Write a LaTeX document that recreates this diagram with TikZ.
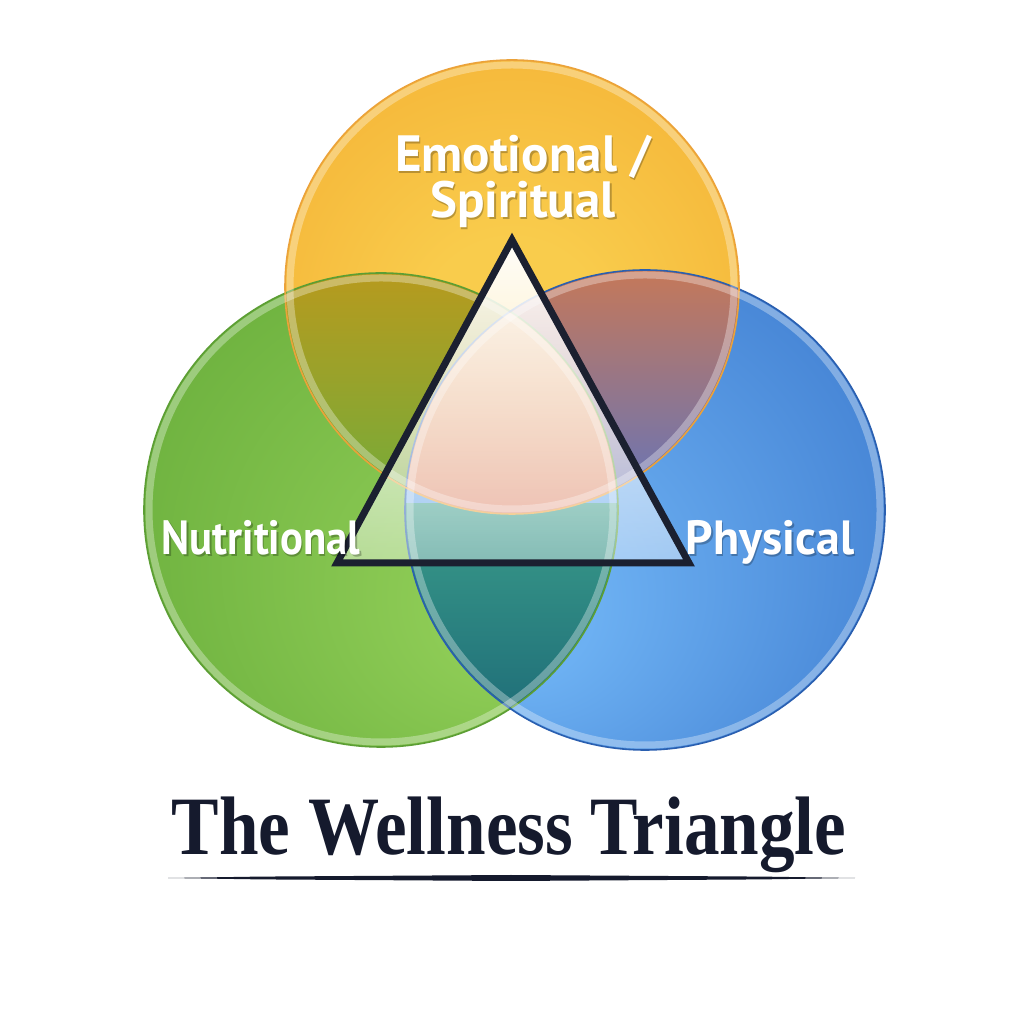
\documentclass[tikz,border=0pt]{standalone}
\usepackage{fontspec}
\setmainfont{Liberation Serif}
\newfontfamily\labelfont{PT Sans}
\usetikzlibrary{fadings}
\definecolor{oc1}{HTML}{F9CC4C}
\definecolor{oc2}{HTML}{F1A227}
\definecolor{gc1}{HTML}{8DCB55}
\definecolor{gc2}{HTML}{5AA231}
\definecolor{bc1}{HTML}{6CB0F2}
\definecolor{bc2}{HTML}{2D68C2}
\definecolor{navy}{HTML}{151A2D}
\definecolor{triline}{HTML}{1B2030}
\definecolor{ogTop}{HTML}{B79A1E}
\definecolor{ogBot}{HTML}{6FAD3C}
\definecolor{obTop}{HTML}{C4785A}
\definecolor{obBot}{HTML}{5E74C0}
\definecolor{gbTop}{HTML}{3A9C8A}
\definecolor{gbBot}{HTML}{1C6876}
\definecolor{trTop}{HTML}{E6A655}
\definecolor{trBot}{HTML}{DE8870}
\definecolor{gEdge}{HTML}{5C9E34}
\definecolor{bEdge}{HTML}{2A5FB0}
\definecolor{oEdge}{HTML}{EBA23A}
\pgfdeclareradialshading{orsh}{\pgfpoint{0bp}{-6bp}}{color(0bp)=(oc1); color(10bp)=(oc1); color(50bp)=(oc2)}
\pgfdeclareradialshading{grsh}{\pgfpoint{16bp}{-12bp}}{color(0bp)=(gc1); color(8bp)=(gc1); color(50bp)=(gc2)}
\pgfdeclareradialshading{blsh}{\pgfpoint{-16bp}{-12bp}}{color(0bp)=(bc1); color(8bp)=(bc1); color(50bp)=(bc2)}
\tikzfading[name=trifade, top color=transparent!3, bottom color=transparent!60]
\begin{document}
\begin{tikzpicture}[x=1pt,y=1pt,
  lbl/.style={text=white, inner sep=0pt, anchor=base},
  lblsh/.style={lbl, text=black, opacity=0.25},
  topfont/.style={font=\labelfont\bfseries\fontsize{51}{46}\selectfont, align=center},
  sidefont/.style={font=\labelfont\bfseries\fontsize{48}{52}\selectfont},
  rim/.style={draw=white, line width=7pt, draw opacity=0.32},
  edge/.style={line width=1.6pt}]
\fill[white] (0,0) rectangle (1024,1024);
\useasboundingbox (0,0) rectangle (1024,1024);
\coordinate (O) at (512,737);
\coordinate (G) at (381,514);
\coordinate (B) at (645,514);
% base circles
\shade[shading=grsh] (G) circle (237pt);
\shade[shading=blsh] (B) circle (240pt);
\shade[shading=orsh] (O) circle (227pt);
% lens orange-green
\begin{scope}
  \clip (O) circle (227pt);
  \clip (G) circle (237pt);
  \shade[top color=ogTop, bottom color=ogBot] (280,752) rectangle (625,505);
\end{scope}
% lens orange-blue
\begin{scope}
  \clip (O) circle (227pt);
  \clip (B) circle (240pt);
  \shade[top color=obTop, bottom color=obBot] (400,752) rectangle (745,505);
\end{scope}
% lens green-blue
\begin{scope}
  \clip (G) circle (237pt);
  \clip (B) circle (240pt);
  \shade[top color=gbTop, bottom color=gbBot] (400,520) rectangle (625,280);
\end{scope}
% triple region
\begin{scope}
  \clip (O) circle (227pt);
  \clip (G) circle (237pt);
  \clip (B) circle (240pt);
  \shade[top color=trTop, bottom color=trBot] (400,720) rectangle (625,505);
\end{scope}
% outer edges
\draw[edge, draw=gEdge] (G) circle (237pt);
\draw[edge, draw=bEdge] (B) circle (240pt);
\draw[edge, draw=oEdge] (O) circle (227pt);
% triangle overlay
\coordinate (TA) at (512,784);
\coordinate (TL) at (337,461);
\coordinate (TR) at (689,461);
\fill[white, path fading=trifade] (TA) -- (TL) -- (TR) -- cycle;
% rims
\draw[rim] (G) circle (232pt);
\draw[rim] (B) circle (235pt);
\draw[rim] (O) circle (222pt);
% triangle outline
\draw[triline, line width=7pt, line join=miter] (TA) -- (TL) -- (TR) -- cycle;
% label shadows
\node[lblsh, topfont] (emos) at (524.5,804) {Emotional /\\Spiritual};
\node[lblsh, sidefont] (nuts) at (262.5,467) {\scalebox{0.89}[1]{Nutritional}};
\node[lblsh, sidefont] (phys) at (771.5,467) {Physical};
% labels
\node[lbl, topfont] (emo) at (523,806) {Emotional /\\Spiritual};
\node[lbl, sidefont] (nut) at (261,469) {\scalebox{0.89}[1]{Nutritional}};
\node[lbl, sidefont] (phy) at (770,469) {Physical};
% title
\node[font=\bfseries\fontsize{83}{90}\selectfont, text=navy, inner sep=0pt, anchor=base] (title) at (509,169) {\scalebox{0.857}[1]{The Wellness Triangle}};
\coordinate (ulL) at (168,146);
\coordinate (ulR) at (855,146);
\fill[navy] (ulL) -- (260,147.4) -- (511,149) -- (762,147.4) -- (ulR) -- (762,144.6) -- (511,143) -- (260,144.6) -- cycle;
\end{tikzpicture}
\end{document}
